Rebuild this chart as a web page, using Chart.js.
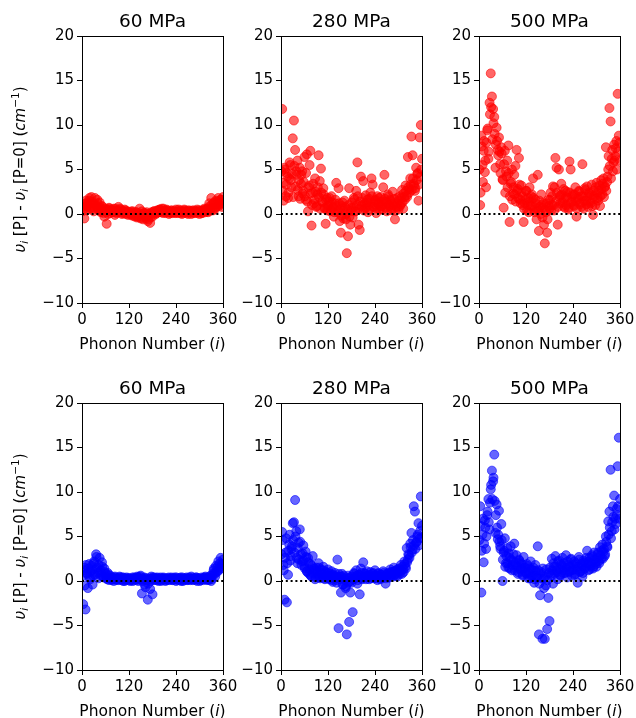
<!DOCTYPE html>
<html>
<head>
<meta charset="utf-8">
<script src="https://cdn.jsdelivr.net/npm/chart.js@4"></script>
<style>
  html, body { margin: 0; padding: 0; background: #fff; overflow: hidden; }
  #wrap { position: relative; width: 636px; height: 718px; background: #fff; }
  canvas { position: absolute; }
</style>
</head>
<body>
<div id="wrap"></div>
<script>
// phonon indices, two interleaved samplings
const phonon = [3,6,9,12,15,18,21,24,27,30,33,36,39,42,45,48,51,54,57,60,
  63,66,69,72,75,78,81,84,87,90,93,96,99,102,105,108,111,114,117,120,
  123,126,129,132,135,138,141,144,147,150,153,156,159,162,165,168,171,174,177,180,
  183,186,189,192,195,198,201,204,207,210,213,216,219,222,225,228,231,234,237,240,
  243,246,249,252,255,258,261,264,267,270,273,276,279,282,285,288,291,294,297,300,
  303,306,309,312,315,318,321,324,327,330,333,336,339,342,345,348,351,354,357,360];
const phononB = [1,4,7,10,13,16,19,22,25,28,31,34,37,40,43,46,49,52,55,58,
  61,64,67,70,73,76,79,82,85,88,91,94,97,100,103,106,109,112,115,118,
  121,124,127,130,133,136,139,142,145,148,151,154,157,160,163,166,169,172,175,178,
  181,184,187,190,193,196,199,202,205,208,211,214,217,220,223,226,229,232,235,238,
  241,244,247,250,253,256,259,262,265,268,271,274,277,280,283,286,289,292,295,298,
  301,304,307,310,313,316,319,322,325,328,331,334,337,340,343,346,349,352,355,358];

// frequency shifts (cm^-1), top row (red)
const red60 = [0.8,-0.5,1.2,0.4,1.0, 1.5,0.6,1.9,1.2,0.3, 1.8,0.9,1.6,0.5,1.3, 0.2,0.9,0.5,-0.3,0.6,
  -1.1,0.3,0.7,0.1,0.4, 0.2,0.6,-0.1,0.4,0.2, 0.8,0.3,0.5,0.0,0.3, 0.1,0.4,0.2,-0.1,0.2,
  0.0,0.3,-0.2,0.1,-0.3, 0.2,-0.4,0.0,0.6,-0.5, 0.3,-0.6,0.1,-0.3,0.2, -0.8,0.0,-1.0,0.2,-0.3,
  0.3,0.1,0.0,0.4,0.2, 0.5,0.3,0.6,0.1,0.4, 0.2,0.5,0.3,0.0,0.2, 0.4,0.1,0.3,0.2,0.5,
  0.1,0.3,0.2,0.4,0.0, 0.3,0.5,0.2,0.1,0.4, 0.2,0.3,0.0,0.4,0.2, 0.1,0.3,0.5,0.2,0.0,
  0.3,0.1,0.4,0.6,0.2, 0.5,0.3,0.8,0.4,1.8, 0.7,1.2,0.5,1.5,0.9, 1.8,1.1,1.6,0.8,1.9];
const red60B = [0.3,1.1,0.6,1.5,0.9, 1.2,1.8,0.7,1.4,1.0, 0.6,1.1,0.8,1.2,0.4, 0.7,0.3,0.8,0.1,0.5,
  0.2,0.5,0.0,0.6,0.3, 0.5,0.2,0.3,0.6,0.1, 0.4,0.2,0.6,0.3,0.1, 0.3,0.5,0.0,0.3,0.1,
  0.2,-0.1,0.1,0.3,0.0, -0.2,0.2,-0.3,0.1,-0.2, -0.4,0.0,-0.2,0.1,-0.5, -0.3,-0.6,0.0,-0.4,0.1,
  0.0,0.3,0.2,0.1,0.4, 0.2,0.5,0.2,0.3,0.6, 0.3,0.1,0.4,0.2,0.3, 0.1,0.4,0.2,0.3,0.1,
  0.3,0.2,0.5,0.1,0.3, 0.2,0.1,0.4,0.3,0.2, 0.0,0.4,0.2,0.3,0.1, 0.4,0.2,0.3,0.1,0.4,
  0.2,0.4,0.1,0.3,0.5, 0.3,0.6,0.2,1.2,0.6, 1.0,0.4,1.3,0.7,1.1, 1.4,0.9,1.3,1.6,1.2];
const red280 = [11.8,3.5,5.2,2.0,4.6, 1.8,4.0,5.5,3.0,8.5, 10.5,7.2,4.8,6.0,2.0, 5.2,3.4,4.8,2.6,6.4,
  1.6,6.7,0.3,3.2,7.1, -1.3,2.4,1.2,4.0,0.8, 2.2,6.6,3.7,5.1,1.4, 2.9,0.6,-1.1,1.8,0.9,
  1.4,0.3,2.0,0.7,-0.3, 1.2,3.5,0.2,2.9,-0.8, -2.1,0.9,-0.5,1.5,0.0, -4.4,-2.5,2.9,-1.2,0.7,
  -0.4,1.8,0.3,2.6,5.8, -1.2,-1.8,4.2,1.0,3.7, 0.6,2.1,1.3,0.2,1.7, 2.4,4.0,3.3,0.8,1.5,
  0.1,2.0,1.1,0.5,1.9, 0.9,3.0,4.4,1.4,0.3, 2.2,1.0,1.6,0.4,2.5, 1.2,-0.6,0.8,1.8,0.5,
  2.0,1.1,2.7,0.6,1.9, 3.2,2.1,6.4,2.8,4.0, 8.7,6.6,3.4,2.6,5.2, 4.5,1.5,8.6,10.0,6.2];
const red280B = [4.8,2.6,1.5,5.0,3.3, 4.2,2.4,5.8,3.8,4.5, 1.9,5.4,3.1,4.4,2.7, 3.8,1.7,4.4,2.3,3.6,
  2.0,4.6,1.4,3.0,5.5, 2.3,1.0,3.4,1.6,2.5, 0.9,3.0,1.9,0.6,2.4, 1.3,2.2,0.7,1.6,0.4,
  1.0,1.8,0.5,1.3,0.8, 0.2,1.6,0.9,0.4,1.2, 0.6,-0.2,1.3,0.4,0.8, -0.6,0.5,1.0,-0.3,0.3,
  1.3,0.7,1.6,0.3,1.0, 2.0,0.6,1.4,0.9,1.8, 0.4,1.2,0.7,1.6,1.0, 0.5,1.3,2.0,0.8,1.1,
  1.6,0.6,1.2,1.8,0.9, 1.4,0.5,1.1,1.7,0.7, 1.3,2.0,0.9,1.5,0.6, 1.0,1.7,0.4,1.2,0.8,
  1.5,0.9,1.8,1.3,2.3, 1.6,2.6,1.9,3.0,2.4, 3.3,2.7,4.0,3.2,2.9, 3.8,4.6,3.3,4.2,5.0];
const red500 = [1.0,8.8,5.5,7.1,4.7, 3.0,9.4,6.2,12.5,15.8, 13.2,11.8,10.9,5.2,9.7, 7.2,8.6,5.6,7.5,3.9,
  0.7,7.1,4.8,6.0,7.7, -0.9,3.4,5.0,2.3,4.4, 5.4,7.2,2.8,6.3,1.6, 3.2,2.0,-0.9,1.2,2.6,
  0.4,1.8,3.0,0.9,2.2, 4.0,0.5,1.6,-0.6,4.4, -1.9,0.8,2.2,-0.4,1.2, -3.3,0.2,-2.1,1.6,0.6,
  2.4,1.0,3.1,0.4,6.3, 5.2,-1.2,5.0,2.1,3.4, 1.3,2.8,0.7,1.9,2.5, 0.5,5.9,5.0,1.4,2.2,
  0.9,3.0,-0.3,1.7,2.6, 1.1,2.0,5.6,0.6,2.9, 1.5,3.1,0.8,2.3,1.2, 3.3,-0.1,2.0,1.0,3.5,
  1.8,2.6,0.9,3.8,2.2, 4.0,3.0,7.5,3.6,5.0, 11.9,10.4,6.2,4.8,7.8, 6.5,8.2,13.5,8.8,6.0];
const red500B = [5.0,2.4,7.6,3.6,8.2, 6.0,8.0,9.6,7.0,11.2, 12.0,8.4,10.2,9.0,7.8, 8.2,6.6,7.0,4.6,6.8,
  3.8,5.6,2.4,4.2,3.0, 4.6,2.0,3.6,1.6,3.0, 2.2,1.4,2.6,1.8,3.3, 1.2,2.4,1.0,0.6,1.6,
  2.6,1.0,0.2,1.4,2.0, 0.9,1.8,0.2,1.2,0.6, 0.4,1.5,0.0,1.0,0.7, -1.2,0.5,1.2,-0.6,0.9,
  1.6,0.4,2.0,1.0,3.0, 1.4,2.4,0.8,1.9,1.2, 2.2,0.9,1.7,2.6,1.0, 1.8,0.7,2.4,1.3,2.0,
  1.0,2.2,1.4,0.6,1.9, 2.5,1.3,0.8,2.0,1.5, 2.7,1.1,1.9,2.4,1.4, 2.1,0.9,2.6,1.7,3.0,
  2.4,1.5,3.2,2.0,2.8, 3.4,1.9,3.1,2.6,4.2, 6.5,5.4,4.0,7.2,5.8, 6.0,7.4,5.0,7.0,8.0];

// bottom row (blue)
const blue60 = [-2.6,1.5,-3.2,0.8,-0.8, 1.9,0.2,1.2,-0.4,2.0, 0.7,3.0,1.5,0.3,2.6, 1.2,2.1,0.5,1.4,0.8,
  0.3,0.9,0.1,0.6,0.2, 0.4,0.0,0.5,0.2,0.3, 0.1,0.5,0.2,0.4,0.0, 0.3,0.1,0.4,0.2,0.3,
  0.0,0.2,0.4,0.1,0.3, 0.2,0.5,0.0,0.3,0.6, -1.4,0.2,0.4,-0.7,0.1, -2.1,0.3,-0.9,0.5,-1.5,
  0.2,0.4,0.1,0.3,0.0, 0.2,0.4,0.1,0.3,0.2, 0.0,0.3,0.1,0.4,0.2, 0.3,0.1,0.2,0.4,0.0,
  0.2,0.3,0.1,0.4,0.2, 0.0,0.3,0.2,0.4,0.1, 0.3,0.2,0.5,0.1,0.3, 0.2,0.4,0.0,0.3,0.2,
  0.1,0.4,0.2,0.3,0.5, 0.2,0.4,0.1,0.3,0.0, 0.6,1.2,0.8,1.7,1.0, 2.2,1.5,2.6,1.9,2.4];
const blue60B = [0.6,1.2,-0.5,1.8,0.9, 1.4,0.4,1.0,1.7,0.6, 2.2,1.3,2.7,0.9,1.8, 1.0,0.6,1.6,0.4,1.0,
  0.5,0.2,0.7,0.3,0.4, 0.1,0.3,0.2,0.4,0.1, 0.3,0.2,0.4,0.1,0.2, 0.4,0.0,0.2,0.3,0.1,
  0.3,0.1,0.2,0.0,0.4, 0.3,0.1,0.4,0.2,0.5, 0.2,0.0,0.3,-0.4,0.3, 0.1,-0.3,0.2,0.0,0.3,
  0.4,0.1,0.3,0.2,0.4, 0.1,0.3,0.0,0.2,0.4, 0.3,0.1,0.2,0.3,0.1, 0.2,0.4,0.1,0.3,0.2,
  0.4,0.1,0.2,0.3,0.0, 0.4,0.1,0.2,0.3,0.1, 0.2,0.4,0.1,0.3,0.2, 0.3,0.1,0.4,0.2,0.3,
  0.0,0.2,0.3,0.1,0.4, 0.3,0.1,0.2,0.4,0.6, 0.2,0.8,1.4,0.5,1.1, 1.6,1.2,2.0,1.4,1.8];
const blue280 = [5.5,1.8,-2.1,3.2,-2.4, 0.7,4.1,2.3,3.6,6.5, 6.6,9.1,5.6,2.0,4.3, 5.8,3.0,2.2,4.0,1.6,
  3.3,1.1,2.6,0.8,1.9, 0.5,2.8,1.2,0.2,1.5, 0.9,2.0,0.4,1.3,0.7, 1.6,0.3,1.0,0.6,1.3,
  0.2,0.8,1.1,-0.1,0.6, 0.9,0.1,2.4,-5.3,0.5, -1.3,0.8,-0.4,0.3,-0.8, -6.0,0.6,-4.6,-1.3,-0.2,
  -3.5,0.9,0.4,1.2,-0.3, 0.7,-1.5,1.4,0.2,2.1, 0.9,0.4,1.1,0.6,0.2, 1.0,0.5,0.8,0.3,1.2,
  0.6,0.1,0.9,0.4,0.7, 0.3,1.1,0.5,-0.3,0.8, 0.9,0.4,1.3,0.6,1.0, 1.5,0.7,1.2,0.5,1.4,
  1.0,1.8,0.8,1.3,2.2, 1.6,3.7,2.4,2.9,4.2, 5.4,3.5,8.4,7.8,4.3, 5.0,6.5,4.8,9.5,6.2];
const blue280B = [3.0,4.6,1.2,2.6,4.8, 2.0,3.4,5.2,2.8,3.9, 4.6,3.2,5.0,2.6,3.7, 2.4,4.4,1.8,3.1,2.3,
  1.4,2.7,1.0,2.1,1.3, 0.6,1.7,0.9,1.4,0.4, 1.1,0.6,1.5,0.3,0.9, 0.5,1.2,0.2,0.8,0.4,
  0.9,0.3,0.6,0.1,0.7, 0.3,0.5,-0.2,0.4,0.8, 0.2,0.5,-0.4,0.6,0.1, -0.6,0.3,-0.2,0.4,0.0,
  0.5,0.2,0.8,0.3,0.6, 0.1,0.7,0.4,0.9,0.3, 0.5,0.8,0.2,0.6,0.4, 0.7,0.3,0.5,0.9,0.4,
  0.6,0.3,0.8,0.5,0.2, 0.7,0.4,0.9,0.5,0.3, 0.6,0.8,0.4,1.0,0.7, 0.5,1.1,0.8,0.6,1.0,
  1.3,0.8,1.2,1.6,1.0, 1.9,1.4,2.1,3.0,2.6, 3.8,3.2,4.6,4.0,3.6, 4.4,5.2,4.0,5.6,4.9];
const blue500 = [8.4,-1.3,5.2,2.1,6.8, 3.6,7.4,9.2,5.8,10.3, 12.4,11.2,14.2,5.4,8.6, 4.7,7.9,3.9,6.4,0.0,
  3.2,4.8,2.0,3.7,1.5, 2.6,3.9,1.2,2.2,4.2, 1.8,2.9,0.8,2.4,1.3, 2.0,0.6,2.7,1.5,0.9,
  1.9,0.3,1.4,2.2,0.5, 1.2,-0.2,1.8,0.6,3.9, -6.0,-1.6,1.0,-6.5,0.3, -6.5,-0.5,-5.4,-1.9,-4.5,
  0.8,2.5,-0.3,1.6,2.8, 1.2,0.2,2.3,0.7,1.9, 2.6,0.9,1.5,2.9,0.4, 1.8,1.1,2.4,0.6,1.3,
  2.2,0.8,1.6,-0.2,2.7, 1.0,1.9,0.5,2.3,1.4, 2.0,3.4,1.2,2.6,1.7, 2.9,1.4,3.2,2.1,1.6,
  3.0,2.2,3.8,2.5,4.1, 3.3,2.8,5.0,3.9,6.7, 7.8,12.5,5.6,8.4,9.6, 7.0,8.1,12.9,16.1,9.2];
const blue500B = [4.6,6.2,3.4,7.0,4.2, 6.0,5.0,7.8,6.6,8.8, 10.8,9.2,11.6,9.0,7.4, 6.0,5.2,4.4,3.6,4.6,
  2.4,3.4,1.6,2.8,2.0, 3.1,1.4,2.4,1.8,3.0, 1.2,2.1,1.6,1.0,2.3, 1.4,1.9,0.7,1.5,1.1,
  0.8,1.7,0.9,0.3,1.3, 0.6,1.5,0.2,1.1,0.4, 1.2,-0.3,0.8,0.3,1.4, -0.8,0.5,1.3,0.1,0.9,
  1.5,0.6,1.2,2.0,0.8, 1.6,1.0,2.2,1.3,0.6, 1.7,1.2,2.0,0.9,1.5, 2.2,1.0,1.6,2.5,1.2,
  1.8,0.7,2.0,1.3,1.6, 2.4,1.1,1.7,0.9,2.1, 1.5,2.6,1.8,2.2,1.3, 2.0,2.7,1.6,2.4,1.9,
  2.6,3.2,2.0,2.9,3.4, 2.5,3.6,3.0,4.4,3.8, 5.2,6.0,4.8,6.6,7.2, 5.8,6.4,7.4,8.4,7.0];

const pressures = ['60 MPa', '280 MPa', '500 MPa'];
const rows = [
  { color: 'rgba(255, 0, 0, 0.6)', series: [[red60, red60B], [red280, red280B], [red500, red500B]] },
  { color: 'rgba(0, 0, 255, 0.6)', series: [[blue60, blue60B], [blue280, blue280B], [blue500, blue500B]] }
];

// panel geometry (page px)
const colLeft = [82, 281, 479];
const rowTop = [36, 403];
const PW = 141, PH = 267, PT = 36, PR = 22, XH = 49;

Chart.defaults.font.family = "'DejaVu Sans', sans-serif";
Chart.defaults.color = '#000';

function drawRuns(ctx, runs, size) {
  // measure then draw a line of mixed-style text centred on x=0
  let total = 0;
  runs.forEach(r => {
    const s = r.sub || r.sup ? size * 0.7 : size;
    ctx.font = (r.it ? 'italic ' : '') + s + "px 'DejaVu Sans'";
    r.w = ctx.measureText(r.t).width;
    total += r.w;
  });
  let x = -total / 2;
  runs.forEach(r => {
    const s = r.sub || r.sup ? size * 0.7 : size;
    ctx.font = (r.it ? 'italic ' : '') + s + "px 'DejaVu Sans'";
    const dy = r.sub ? size * 0.2 : r.sup ? -size * 0.42 : 0;
    ctx.fillText(r.t, x, dy);
    x += r.w;
  });
}

const panelDeco = {
  id: 'panelDeco',
  afterDraw(chart, args, opts) {
    const { ctx, chartArea: a } = chart;
    ctx.save();
    ctx.strokeStyle = '#000';
    ctx.lineWidth = 1;
    ctx.strokeRect(Math.round(a.left) + 0.5, Math.round(a.top) + 0.5,
      Math.round(a.right - a.left), Math.round(a.bottom - a.top));
    ctx.fillStyle = '#000';
    ctx.textBaseline = 'alphabetic';
    ctx.textAlign = 'left';
    const cx = (a.left + a.right) / 2;
    // panel title
    ctx.save();
    ctx.translate(cx, a.top - 9.5);
    drawRuns(ctx, [{ t: opts.title }], 18.5);
    ctx.restore();
    // x label
    ctx.save();
    ctx.translate(cx, a.bottom + 46);
    drawRuns(ctx, [{ t: 'Phonon Number (' }, { t: 'i', it: true }, { t: ')' }], 15.5);
    ctx.restore();
    // y label
    if (opts.ylabel) {
      ctx.save();
      ctx.translate(25, (a.top + a.bottom) / 2);
      ctx.rotate(-Math.PI / 2);
      drawRuns(ctx, [
        { t: 'υ', it: true }, { t: 'i', it: true, sub: true }, { t: ' [P] - ' },
        { t: 'υ', it: true }, { t: 'i', it: true, sub: true }, { t: ' [P=0] (' },
        { t: 'cm', it: true }, { t: '−1', sup: true }, { t: ')' }
      ], 15);
      ctx.restore();
    }
    ctx.restore();
  }
};

const wrap = document.getElementById('wrap');

rows.forEach((row, r) => {
  row.series.forEach((pair, c) => {
    const [vals, valsB] = pair;
    const YW = c === 0 ? 82 : 60;
    const canvas = document.createElement('canvas');
    canvas.width = YW + PW + PR;
    canvas.height = PT + PH + XH;
    canvas.style.left = (colLeft[c] - YW) + 'px';
    canvas.style.top = (rowTop[r] - PT) + 'px';
    wrap.appendChild(canvas);

    const points = phonon.map((x, k) => ({ x: x, y: vals[k] }))
      .concat(phononB.map((x, k) => ({ x: x, y: valsB[k] })));

    new Chart(canvas, {
      type: 'scatter',
      data: {
        datasets: [
          {
            type: 'line',
            data: [{ x: 0, y: 0 }, { x: 360, y: 0 }],
            showLine: true,
            borderColor: '#000',
            borderWidth: 2,
            borderDash: [2, 2.8],
            pointRadius: 0,
            fill: false,
            order: 0
          },
          {
            data: points,
            backgroundColor: row.color,
            borderColor: row.color,
            borderWidth: 1,
            pointRadius: 4.5,
            order: 1
          }
        ]
      },
      options: {
        responsive: false,
        animation: false,
        layout: { padding: { top: PT, right: PR, bottom: 0, left: 0 } },
        plugins: {
          legend: { display: false },
          tooltip: { enabled: false },
          panelDeco: { title: pressures[c], ylabel: c === 0 }
        },
        scales: {
          x: {
            type: 'linear',
            min: 0,
            max: 360,
            afterFit: s => { s.height = XH; },
            ticks: { stepSize: 120, autoSkip: false, maxRotation: 0, padding: 3, font: { size: 15 }, color: '#000' },
            grid: { drawOnChartArea: false, drawTicks: true, tickLength: 5, color: '#000' },
            border: { display: true, color: '#000', width: 1 }
          },
          y: {
            min: -10,
            max: 20,
            afterFit: s => { s.width = YW; },
            ticks: {
              stepSize: 5,
              padding: 3,
              font: { size: 15 },
              color: '#000',
              callback: v => String(v).replace('-', '\u2212')
            },
            grid: { drawOnChartArea: false, drawTicks: true, tickLength: 5, color: '#000' },
            border: { display: true, color: '#000', width: 1 }
          }
        }
      },
      plugins: [panelDeco]
    });
  });
});
</script>
</body>
</html>
